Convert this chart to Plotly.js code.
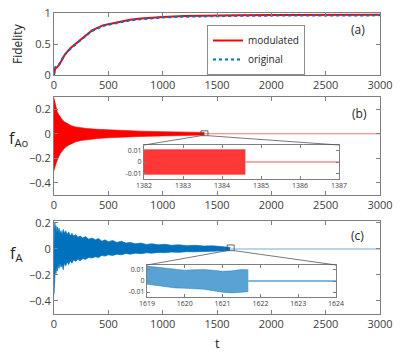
<!DOCTYPE html>
<html>
<head>
<meta charset="utf-8">
<script src="https://cdn.plot.ly/plotly-3.0.1.min.js"></script>
<style>
  body { margin: 0; background: #fff; }
  #chart { width: 420px; height: 352px; }
</style>
</head>
<body>
<div id="chart"></div>
<script>
// (a) fidelity vs t
var tFid = [0, 10, 25, 50, 75, 100, 150, 200, 250, 300, 350, 400, 450, 500, 600, 700, 800, 900, 1000, 1200, 1400, 1700, 2000, 2500, 3000];
var fidModulated = [0, 0.1, 0.12, 0.17, 0.25, 0.33, 0.43, 0.5, 0.58, 0.65, 0.72, 0.76, 0.8, 0.82, 0.86, 0.89, 0.91, 0.925, 0.935, 0.95, 0.958, 0.963, 0.966, 0.969, 0.97];
var fidOriginal = [0, 0.12, 0.14, 0.18, 0.26, 0.33, 0.42, 0.5, 0.57, 0.64, 0.71, 0.75, 0.79, 0.81, 0.85, 0.88, 0.9, 0.915, 0.928, 0.94, 0.948, 0.954, 0.958, 0.961, 0.962];

// (b) f_Ao : envelope of the fast oscillation
var tAo = [0, 5, 10, 20, 30, 45, 60, 80, 100, 130, 160, 200, 250, 300, 400, 500, 600, 800, 1000, 1200, 1384.6];
var fAoUpper = [0.29, 0.27, 0.25, 0.21, 0.18, 0.155, 0.135, 0.11, 0.095, 0.078, 0.066, 0.056, 0.048, 0.043, 0.036, 0.031, 0.027, 0.021, 0.017, 0.014, 0.011];
var fAoLower = [-0.3, -0.29, -0.27, -0.24, -0.21, -0.185, -0.16, -0.135, -0.115, -0.095, -0.08, -0.066, -0.055, -0.048, -0.039, -0.033, -0.028, -0.022, -0.018, -0.014, -0.011];
var tAoTail = [1384.6, 3000];
var fAoTail = [0, 0];

// (b) inset, t = 1382..1387
var tAoZoom = [1382, 1384.6];
var fAoZoomUpper = [0.0105, 0.0105];
var fAoZoomLower = [-0.0105, -0.0105];
var tAoZoomTail = [1384.6, 1387];
var fAoZoomTail = [0, 0];

// (c) f_A : envelope of the noisy oscillation
var tA = [0, 4, 8, 12, 18, 24, 30, 38, 46, 55, 65, 75, 85, 95, 108, 120, 135, 150, 165, 180, 200, 220, 240, 265, 290, 320, 350, 380, 410, 440, 470, 500, 540, 580, 620, 660, 700, 750, 800, 850, 900, 960, 1020, 1080, 1150, 1220, 1300, 1380, 1460, 1540, 1600, 1621.7];
var fAUpper = [0.05, 0.12, 0.2, 0.14, 0.18, 0.12, 0.17, 0.13, 0.16, 0.12, 0.14, 0.11, 0.15, 0.12, 0.14, 0.11, 0.13, 0.1, 0.12, 0.1, 0.11, 0.09, 0.1, 0.085, 0.095, 0.075, 0.085, 0.07, 0.08, 0.06, 0.07, 0.055, 0.065, 0.05, 0.06, 0.045, 0.05, 0.04, 0.045, 0.035, 0.04, 0.032, 0.036, 0.028, 0.032, 0.025, 0.028, 0.022, 0.024, 0.018, 0.016, 0.012];
var fALower = [-0.35, -0.2, -0.28, -0.15, -0.19, -0.14, -0.17, -0.12, -0.15, -0.11, -0.14, -0.12, -0.16, -0.11, -0.13, -0.1, -0.12, -0.09, -0.11, -0.085, -0.095, -0.08, -0.09, -0.075, -0.08, -0.065, -0.07, -0.06, -0.065, -0.05, -0.055, -0.045, -0.05, -0.04, -0.045, -0.035, -0.04, -0.032, -0.036, -0.03, -0.032, -0.027, -0.029, -0.024, -0.026, -0.021, -0.022, -0.018, -0.019, -0.015, -0.013, -0.008];
var tATail = [1621.7, 3000];
var fATail = [0, 0];

// (c) inset, t = 1619..1624
var tAZoom = [1619, 1619.25, 1619.5, 1619.75, 1620, 1620.25, 1620.5, 1620.75, 1621, 1621.25, 1621.5, 1621.68];
var fAZoomUpper = [0.0135, 0.0125, 0.0112, 0.0102, 0.0098, 0.0102, 0.0105, 0.0098, 0.0088, 0.0092, 0.0105, 0.0102];
var fAZoomLower = [-0.003, -0.0042, -0.0055, -0.0063, -0.0066, -0.0068, -0.0075, -0.0088, -0.0102, -0.0108, -0.0105, -0.0098];
var tAZoomTail = [1621.68, 1624];
var fAZoomTail = [0, 0];

var W = 420, H = 352;
function px(x) { return x / W; }
function py(y) { return 1 - y / H; }

var RED = "#ff0000", BLUE = "#0072bd";
var FONT = "Open Sans, DejaVu Sans, sans-serif";
var AX = "#7f7f7f", TXT = "#404040";

// panel boxes in pixels
var domX = [px(54), px(380)];
var domYa = [py(75), py(13)];
var domYb = [py(195), py(97)];
var domYc = [py(314), py(221)];
var domXib = [px(144), px(339)], domYib = [py(179), py(145)];
var domXic = [px(147), px(336)], domYic = [py(297), py(265)];

var rangeT = [0, 3000];
var rangeB = [-0.5, 0.3];
var rangeC = [-0.5, 0.215];
var rangeInset = [-0.0145, 0.0145];

function axis(dom, anchor, range, extra) {
  var a = {
    domain: dom, anchor: anchor, range: range,
    showline: true, linecolor: AX, linewidth: 1, mirror: "ticks",
    ticks: "inside", ticklen: 4, tickcolor: AX, tickwidth: 1,
    showgrid: false, zeroline: false, fixedrange: true,
    tickfont: {family: FONT, size: 11, color: TXT}
  };
  for (var k in extra) a[k] = extra[k];
  return a;
}

var data = [
  {x: tFid, y: fidModulated, xaxis: "x", yaxis: "y", mode: "lines", name: "modulated",
   line: {color: RED, width: 2}},
  {x: tFid, y: fidOriginal, xaxis: "x", yaxis: "y", mode: "lines", name: "original",
   line: {color: BLUE, width: 2, dash: "dot"}},

  {x: tAo, y: fAoLower, xaxis: "x2", yaxis: "y2", mode: "lines", showlegend: false,
   line: {color: RED, width: 0.6}},
  {x: tAo, y: fAoUpper, xaxis: "x2", yaxis: "y2", mode: "lines", showlegend: false,
   fill: "tonexty", fillcolor: RED, line: {color: RED, width: 0.6}},
  {x: tAoTail, y: fAoTail, xaxis: "x2", yaxis: "y2", mode: "lines", showlegend: false,
   line: {color: "rgba(255,0,0,0.55)", width: 1}},

  {x: tAoZoom, y: fAoZoomLower, xaxis: "x4", yaxis: "y4", mode: "lines", showlegend: false,
   line: {color: "rgba(255,0,0,0.85)", width: 0.6}},
  {x: tAoZoom, y: fAoZoomUpper, xaxis: "x4", yaxis: "y4", mode: "lines", showlegend: false,
   fill: "tonexty", fillcolor: "rgba(255,20,20,0.85)", line: {color: "rgba(255,0,0,0.85)", width: 0.6}},
  {x: tAoZoomTail, y: fAoZoomTail, xaxis: "x4", yaxis: "y4", mode: "lines", showlegend: false,
   line: {color: "rgba(255,0,0,0.7)", width: 1}},

  {x: tA, y: fALower, xaxis: "x3", yaxis: "y3", mode: "lines", showlegend: false,
   line: {color: BLUE, width: 0.7}},
  {x: tA, y: fAUpper, xaxis: "x3", yaxis: "y3", mode: "lines", showlegend: false,
   fill: "tonexty", fillcolor: BLUE, line: {color: BLUE, width: 0.7}},
  {x: tATail, y: fATail, xaxis: "x3", yaxis: "y3", mode: "lines", showlegend: false,
   line: {color: "#9cc9ea", width: 1.5}},

  {x: tAZoom, y: fAZoomLower, xaxis: "x5", yaxis: "y5", mode: "lines", showlegend: false,
   line: {color: "rgba(0,114,189,0.65)", width: 0.6}},
  {x: tAZoom, y: fAZoomUpper, xaxis: "x5", yaxis: "y5", mode: "lines", showlegend: false,
   fill: "tonexty", fillcolor: "rgba(0,114,189,0.65)", line: {color: "rgba(0,114,189,0.65)", width: 0.6}},
  {x: tAZoomTail, y: fAZoomTail, xaxis: "x5", yaxis: "y5", mode: "lines", showlegend: false,
   line: {color: BLUE, width: 1}}
];

// zoom boxes drawn on the main panels (data units)
var boxB = {x0: 1352, x1: 1417, y0: -0.016, y1: 0.024};
var boxC = {x0: 1594, x1: 1658, y0: -0.013, y1: 0.031};

function toPaper(v, range, dom) {
  return dom[0] + (v - range[0]) / (range[1] - range[0]) * (dom[1] - dom[0]);
}
function connector(x0, y0, x1, y1) {
  return {type: "line", xref: "paper", yref: "paper", x0: x0, y0: y0, x1: x1, y1: y1,
          line: {color: "#555", width: 0.8}};
}
function boxShape(b, xr, yr) {
  return {type: "rect", xref: xr, yref: yr, x0: b.x0, x1: b.x1, y0: b.y0, y1: b.y1,
          line: {color: "#444", width: 0.8}};
}

var shapes = [
  boxShape(boxB, "x2", "y2"),
  boxShape(boxC, "x3", "y3"),
  connector(toPaper(boxB.x0, rangeT, domX), toPaper(boxB.y0, rangeB, domYb), domXib[0], domYib[1]),
  connector(toPaper(boxB.x1, rangeT, domX), toPaper(boxB.y0, rangeB, domYb), domXib[1], domYib[1]),
  connector(toPaper(boxC.x0, rangeT, domX), toPaper(boxC.y0, rangeC, domYc), domXic[0], domYic[1]),
  connector(toPaper(boxC.x1, rangeT, domX), toPaper(boxC.y0, rangeC, domYc), domXic[1], domYic[1])
];

function label(text, x, y, size, angle) {
  return {text: text, xref: "paper", yref: "paper", x: px(x), y: py(y), showarrow: false,
          xanchor: "center", yanchor: "middle", textangle: angle || 0,
          font: {family: FONT, size: size, color: "#262626"}};
}

var insetTick = {family: FONT, size: 7, color: TXT};

var layout = {
  width: W, height: H,
  margin: {l: 0, r: 0, t: 0, b: 0},
  paper_bgcolor: "#fff", plot_bgcolor: "#fff",
  font: {family: FONT},
  showlegend: true,
  legend: {x: px(207), y: py(25), xanchor: "left", yanchor: "top",
           traceorder: "normal",
           bgcolor: "#fff", bordercolor: "#8c8c8c", borderwidth: 1,
           font: {family: FONT, size: 10, color: "#262626"},
           itemwidth: 30, tracegroupgap: 0},
  xaxis: axis(domX, "y", rangeT, {dtick: 500}),
  yaxis: axis(domYa, "x", [0, 1], {tickvals: [0, 0.5, 1]}),
  xaxis2: axis(domX, "y2", rangeT, {dtick: 500}),
  yaxis2: axis(domYb, "x2", rangeB, {tickvals: [-0.4, -0.2, 0, 0.2]}),
  xaxis3: axis(domX, "y3", rangeT, {dtick: 500}),
  yaxis3: axis(domYc, "x3", rangeC, {tickvals: [-0.4, -0.2, 0, 0.2]}),
  xaxis4: axis(domXib, "y4", [1382, 1387], {dtick: 1, ticklen: 3, tickfont: insetTick}),
  yaxis4: axis(domYib, "x4", rangeInset, {tickvals: [-0.01, 0, 0.01], ticktext: ["-0.01", "0", "0.01"], ticklen: 3, tickfont: insetTick}),
  xaxis5: axis(domXic, "y5", [1619, 1624], {dtick: 1, ticklen: 3, tickfont: insetTick}),
  yaxis5: axis(domYic, "x5", rangeInset, {tickvals: [-0.01, 0, 0.01], ticktext: ["-0.01", "0", "0.01"], ticklen: 3, tickfont: insetTick}),
  shapes: shapes,
  annotations: [
    label("(a)", 358, 29, 12),
    label("(b)", 359, 113, 12),
    label("(c)", 357, 235, 12),
    label("Fidelity", 17, 44, 12, -90),
    label("f<sub>Ao</sub>", 18, 138, 16),
    label("f<sub>A</sub>", 16, 253, 16),
    label("t", 217, 343, 13)
  ]
};

Plotly.newPlot("chart", data, layout, {displayModeBar: false, staticPlot: true});
</script>
</body>
</html>
